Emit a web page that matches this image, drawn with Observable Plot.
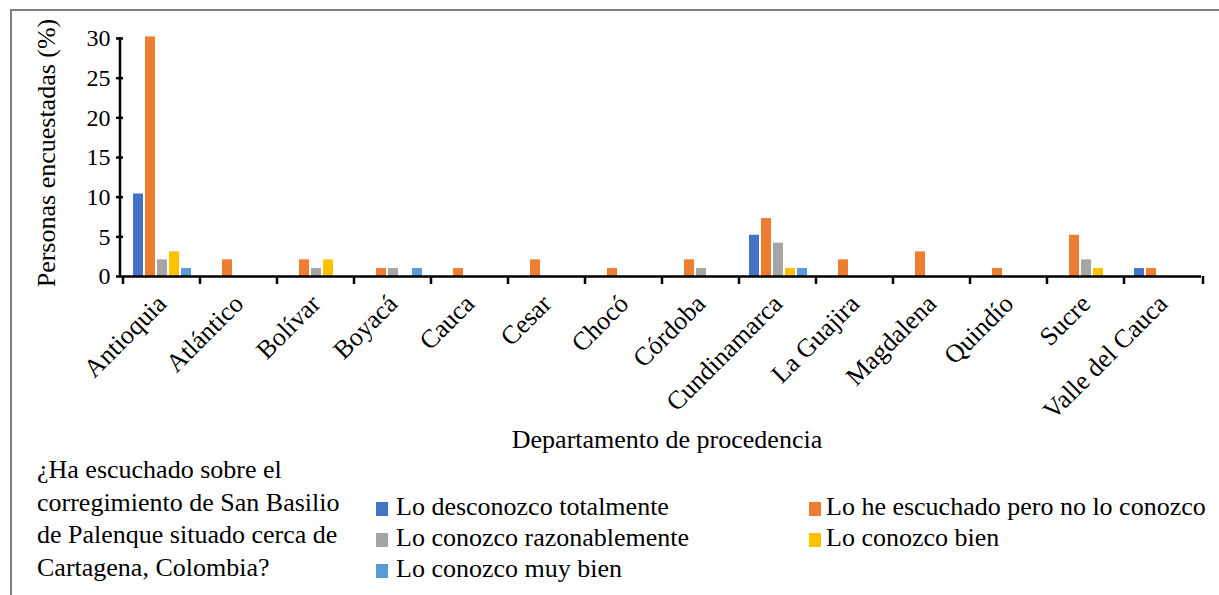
<!DOCTYPE html>
<html>
<head>
<meta charset="utf-8">
<script src="https://cdn.jsdelivr.net/npm/d3@7"></script>
<script src="https://cdn.jsdelivr.net/npm/@observablehq/plot@0.6"></script>
<style>
  html, body { margin: 0; padding: 0; background: #fff; overflow: hidden; }
  body { width: 1219px; height: 595px; position: relative; font-family: "Liberation Serif", "Times New Roman", serif; color: #000; }
  #border { position: absolute; left: 10px; top: 9px; width: 1400px; height: 800px; border-left: 2px solid #7f7f7f; border-top: 2px solid #7f7f7f; }
  #chart { position: absolute; left: 0; top: 0; }
  .txt { position: absolute; font-size: 26px; line-height: 32px; white-space: nowrap; font-family: "Liberation Serif", "Times New Roman", serif; }
  .sw { position: absolute; width: 12px; height: 14px; }
</style>
</head>
<body>
<div id="border"></div>
<div id="chart"></div>
<div id="ylabel" class="txt" style="left:47px; top:153px; transform: translate(-50%,-50%) rotate(-90deg);">Personas encuestadas (%)</div>
<div id="xlabel" class="txt" style="left:667px; top:424px; transform: translateX(-50%);">Departamento de procedencia</div>
<div id="question" class="txt" style="left:37px; top:454px; line-height:32.7px;">¿Ha escuchado sobre el<br>corregimiento de San Basilio<br>de Palenque situado cerca de<br>Cartagena, Colombia?</div>
<div id="legend"></div>
<script>
const categories = ["Antioquia", "Atlántico", "Bolívar", "Boyacá", "Cauca", "Cesar", "Chocó", "Córdoba", "Cundinamarca", "La Guajira", "Magdalena", "Quindío", "Sucre", "Valle del Cauca"];
const series = ["Lo desconozco totalmente", "Lo he escuchado pero no lo conozco", "Lo conozco razonablemente", "Lo conozco bien", "Lo conozco muy bien"];
const colors = ["#4472C4", "#ED7D31", "#A5A5A5", "#FFC000", "#5B9BD5"];
const desconozco = [10.4, 0, 0, 0, 0, 0, 0, 0, 5.2, 0, 0, 0, 0, 1.0];
const escuchado  = [30.2, 2.1, 2.1, 1.0, 1.0, 2.1, 1.0, 2.1, 7.3, 2.1, 3.1, 1.0, 5.2, 1.0];
const razonable  = [2.1, 0, 1.0, 1.0, 0, 0, 0, 1.0, 4.2, 0, 0, 0, 2.1, 0];
const bien       = [3.1, 0, 2.1, 0, 0, 0, 0, 0, 1.0, 0, 0, 0, 1.0, 0];
const muyBien    = [1.0, 0, 0, 1.0, 0, 0, 0, 0, 1.0, 0, 0, 0, 0, 0];
const yTicks = [0, 5, 10, 15, 20, 25, 30];

const valuesBySeries = [desconozco, escuchado, razonable, bien, muyBien];
const rows = categories.flatMap((c, i) => series.map((s, j) => ({cat: c, serie: s, value: valuesBySeries[j][i]}))).filter(d => d.value > 0);

const serifStack = "'Liberation Serif', 'Times New Roman', serif";
const chart = Plot.plot({
  width: 1219,
  height: 430,
  marginLeft: 120,
  marginRight: 16,
  marginTop: 38,
  marginBottom: 154,
  style: {fontFamily: serifStack, fontSize: "26px", color: "#000", background: "transparent", overflow: "visible"},
  fx: {domain: categories, padding: 0, axis: null, label: null},
  x: {domain: series, paddingInner: 0.2, paddingOuter: 0.8, axis: null},
  y: {domain: [0, 30], axis: null},
  color: {domain: series, range: colors},
  marks: [
    Plot.barY(rows, {fx: "cat", x: "serie", y: "value", fill: "serie"}),
    Plot.axisY({ticks: yTicks, tickSize: 7, tickPadding: 6, strokeWidth: 2.5, fontSize: 24, fontFamily: serifStack, label: null}),
    Plot.axisFx({anchor: "bottom", ticks: categories, tickSize: 0, tickRotate: -45, tickPadding: 23, fontSize: 26, fontFamily: serifStack, label: null}),
    Plot.ruleY([0], {stroke: "#000", strokeWidth: 2.5})
  ]
});
document.getElementById("chart").appendChild(chart);

// axis line and category-boundary ticks drawn from the plot's own scales
const fx = chart.scale("fx");
const y = chart.scale("y");
const svg = d3.select(chart);
const y0 = y.apply(0), yTop = y.apply(30);
const left = fx.range[0], right = fx.range[1];
const g = svg.append("g").attr("stroke", "#000").attr("stroke-width", 2.5);
g.append("line").attr("x1", left).attr("x2", left).attr("y1", yTop - 1).attr("y2", y0 + 1);
const edges = categories.map(c => fx.apply(c)).concat([right]);
edges.forEach(x => g.append("line").attr("x1", x).attr("x2", x).attr("y1", y0).attr("y2", y0 + 8));

// legend
const legendPos = [[376, 396, 0], [809, 826, 0], [376, 396, 1], [809, 826, 1], [376, 396, 2]];
const legend = document.getElementById("legend");
series.forEach((s, j) => {
  const [sx, tx, row] = legendPos[j];
  const top = 491 + row * 31;
  const sw = document.createElement("div");
  sw.className = "sw";
  sw.style.left = sx + "px";
  sw.style.top = (top + 11) + "px";
  sw.style.background = colors[j];
  legend.appendChild(sw);
  const t = document.createElement("div");
  t.className = "txt";
  t.style.left = tx + "px";
  t.style.top = top + "px";
  t.textContent = s;
  legend.appendChild(t);
});
</script>
</body>
</html>
